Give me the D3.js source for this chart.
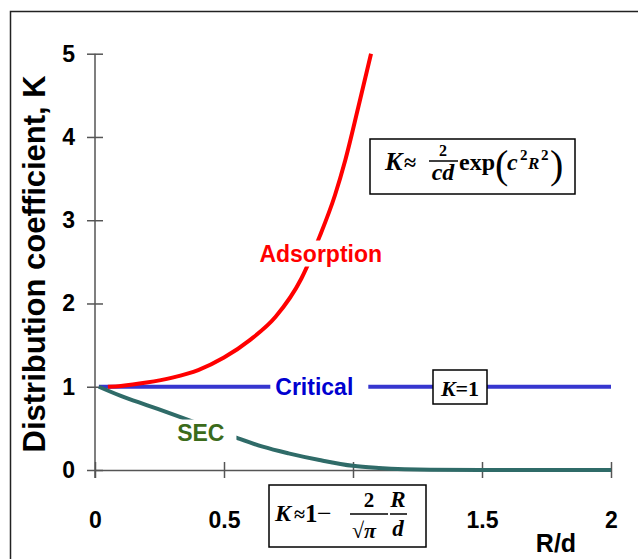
<!DOCTYPE html>
<html>
<head>
<meta charset="utf-8">
<script src="https://cdn.jsdelivr.net/npm/d3@7"></script>
<style>
  body { margin: 0; background: #fff; }
  svg { display: block; }
</style>
</head>
<body>
<svg id="chart"></svg>
<script>
// values
const xTicks = [0, 0.5, 1, 1.5, 2];
const yTicks = [0, 1, 2, 3, 4, 5];

const critR = [0.015, 2];
const critK = [1, 1];

const adsR = [0.05, 0.1, 0.2, 0.3, 0.4, 0.5, 0.6, 0.7, 0.8, 0.87, 0.93, 0.97, 1.02, 1.07];
const adsK = [1.0, 1.01, 1.05, 1.11, 1.2, 1.35, 1.56, 1.84, 2.3, 2.8, 3.3, 3.72, 4.35, 5.0];

const secR = [0.015, 0.1, 0.2, 0.31, 0.45, 0.55, 0.65, 0.75, 0.87, 1.0, 1.1, 1.2, 1.3, 1.5, 2.0];
const secK = [1.0, 0.89, 0.78, 0.66, 0.5, 0.385, 0.28, 0.2, 0.12, 0.05, 0.025, 0.01, 0.003, 0, 0];

const W = 638, H = 559;

const svg = d3.select("#chart")
  .attr("width", W)
  .attr("height", H)
  .style("font-family", "'Liberation Sans', Arial, sans-serif");

// outer frame (runs off the right and bottom edges)
svg.append("rect")
  .attr("x", 10.5).attr("y", 11.5)
  .attr("width", W).attr("height", H)
  .attr("fill", "none")
  .attr("stroke", "#222")
  .attr("stroke-width", 1.5);

const x = d3.scaleLinear().domain([0, 2]).range([95, 611]);
const y = d3.scaleLinear().domain([0, 5]).range([470, 53.7]);

// X axis (label under "1" is covered by the formula box in the original)
const gx = svg.append("g")
  .attr("transform", `translate(0,${y(0)})`)
  .call(d3.axisBottom(x).tickValues(xTicks)
    .tickFormat(d => d === 1 ? "" : d3.format("")(d))
    .tickSize(8).tickSizeOuter(0).tickPadding(34));
gx.selectAll(".tick line").attr("y1", -8);

// Y axis
const gy = svg.append("g")
  .attr("transform", `translate(${x(0)},0)`)
  .call(d3.axisLeft(y).tickValues(yTicks).tickFormat(d3.format("d"))
    .tickSize(8).tickSizeOuter(0).tickPadding(12));
gy.selectAll(".tick line").attr("x1", 8);
gy.select(".domain").attr("d", `M0,${y(5)}V${y(0) + 8}`);

svg.selectAll(".domain, .tick line")
  .attr("stroke", "#555")
  .attr("stroke-width", 1.5);
svg.selectAll(".tick text")
  .attr("fill", "#000")
  .style("font-size", "23px")
  .style("font-weight", "bold")
  .style("font-family", "'Liberation Sans', Arial, sans-serif");

// axis titles
svg.append("text")
  .attr("transform", `translate(45,${(y(0) + y(5)) / 2 + 2}) rotate(-90)`)
  .attr("text-anchor", "middle")
  .style("font-size", "31px")
  .style("font-weight", "bold")
  .text("Distribution coefficient, K");

svg.append("text")
  .attr("x", 556).attr("y", 552)
  .attr("text-anchor", "middle")
  .style("font-size", "25px")
  .style("font-weight", "bold")
  .text("R/d");

// lines
const line = d3.line()
  .x(d => x(d[0]))
  .y(d => y(d[1]))
  .curve(d3.curveMonotoneX);

svg.append("path")
  .datum(d3.zip(critR, critK))
  .attr("d", line)
  .attr("fill", "none")
  .attr("stroke", "#3636cf")
  .attr("stroke-width", 4);

svg.append("path")
  .datum(d3.zip(secR, secK))
  .attr("d", line)
  .attr("fill", "none")
  .attr("stroke", "#2f6b68")
  .attr("stroke-width", 4);

svg.append("path")
  .datum(d3.zip(adsR, adsK))
  .attr("d", line)
  .attr("fill", "none")
  .attr("stroke", "#ff0000")
  .attr("stroke-width", 4);

// curve labels on white patches
function label(txt, cx, cy, color, padL, padR) {
  const t = svg.append("text")
    .attr("x", cx).attr("y", cy)
    .attr("text-anchor", "middle")
    .attr("dominant-baseline", "central")
    .attr("fill", color)
    .style("font-size", "23px")
    .style("font-weight", "bold")
    .text(txt);
  const b = t.node().getBBox();
  svg.insert("rect", () => t.node())
    .attr("x", b.x - padL).attr("y", b.y)
    .attr("width", b.width + padL + padR).attr("height", b.height)
    .attr("fill", "#fff");
}
label("Adsorption", x(0.875), y(2.6), "#ff0000", 4, 4);
label("Critical", x(0.85), y(1), "#0000d0", 5, 15);
label("SEC", x(0.41), y(0.45), "#3b6b1b", 2, 12);

// formula boxes
const serif = "'Liberation Serif', 'Times New Roman', serif";
function box(x0, y0, w, h) {
  const g = svg.append("g");
  g.append("rect")
    .attr("x", x0).attr("y", y0)
    .attr("width", w).attr("height", h)
    .attr("fill", "#fff")
    .attr("stroke", "#000")
    .attr("stroke-width", 1.5);
  return g;
}
function tx(g, s, px, py, size, italic, anchor, weight) {
  return g.append("text")
    .attr("x", px).attr("y", py)
    .attr("text-anchor", anchor || "start")
    .style("font-family", serif)
    .style("font-size", size + "px")
    .style("font-weight", weight || "bold")
    .style("font-style", italic ? "italic" : "normal")
    .text(s);
}

// K ≈ 2/(cd) exp(c²R²)
const b1 = box(370, 139, 205, 55);
tx(b1, "K", 385, 170, 26, true);
tx(b1, "≈", 404, 170, 22, false);
tx(b1, "2", 443, 156, 16, false, "middle");
b1.append("line").attr("x1", 429).attr("x2", 458).attr("y1", 161).attr("y2", 161)
  .attr("stroke", "#000").attr("stroke-width", 1.5);
tx(b1, "cd", 443, 180, 24, true, "middle");
tx(b1, "exp", 459, 170, 24, false);
tx(b1, "(", 495, 178, 40, false, "start", "normal");
tx(b1, "c", 507, 170, 24, true);
tx(b1, "2", 520, 160, 15, false);
tx(b1, "R", 528, 169, 17, true);
tx(b1, "2", 541, 160, 15, false);
tx(b1, ")", 550, 178, 40, false, "start", "normal");

// K ≈ 1 − 2/√π · R/d
const b2 = box(269, 485, 157, 62);
tx(b2, "K", 275, 521, 24, true);
tx(b2, "≈", 294, 521, 20, false);
tx(b2, "1", 305, 522, 25, false);
tx(b2, "−", 317, 522, 26, false, "start", "normal");
tx(b2, "2", 369, 507, 21, false, "middle");
b2.append("line").attr("x1", 350).attr("x2", 388).attr("y1", 514).attr("y2", 514)
  .attr("stroke", "#000").attr("stroke-width", 1.5);
const sq = tx(b2, "√", 352, 538, 22, false, "start", "normal");
sq.append("tspan").style("font-weight", "bold").style("font-style", "italic").text("π");
tx(b2, "R", 398, 507, 23, true, "middle");
b2.append("line").attr("x1", 390).attr("x2", 407).attr("y1", 514).attr("y2", 514)
  .attr("stroke", "#000").attr("stroke-width", 1.5);
tx(b2, "d", 398, 536, 23, true, "middle");

// K = 1
const b3 = box(433, 370, 54, 34);
const k1 = tx(b3, "K", 460, 396, 22, true, "middle");
k1.append("tspan").style("font-style", "normal").text("=1");
</script>
</body>
</html>
